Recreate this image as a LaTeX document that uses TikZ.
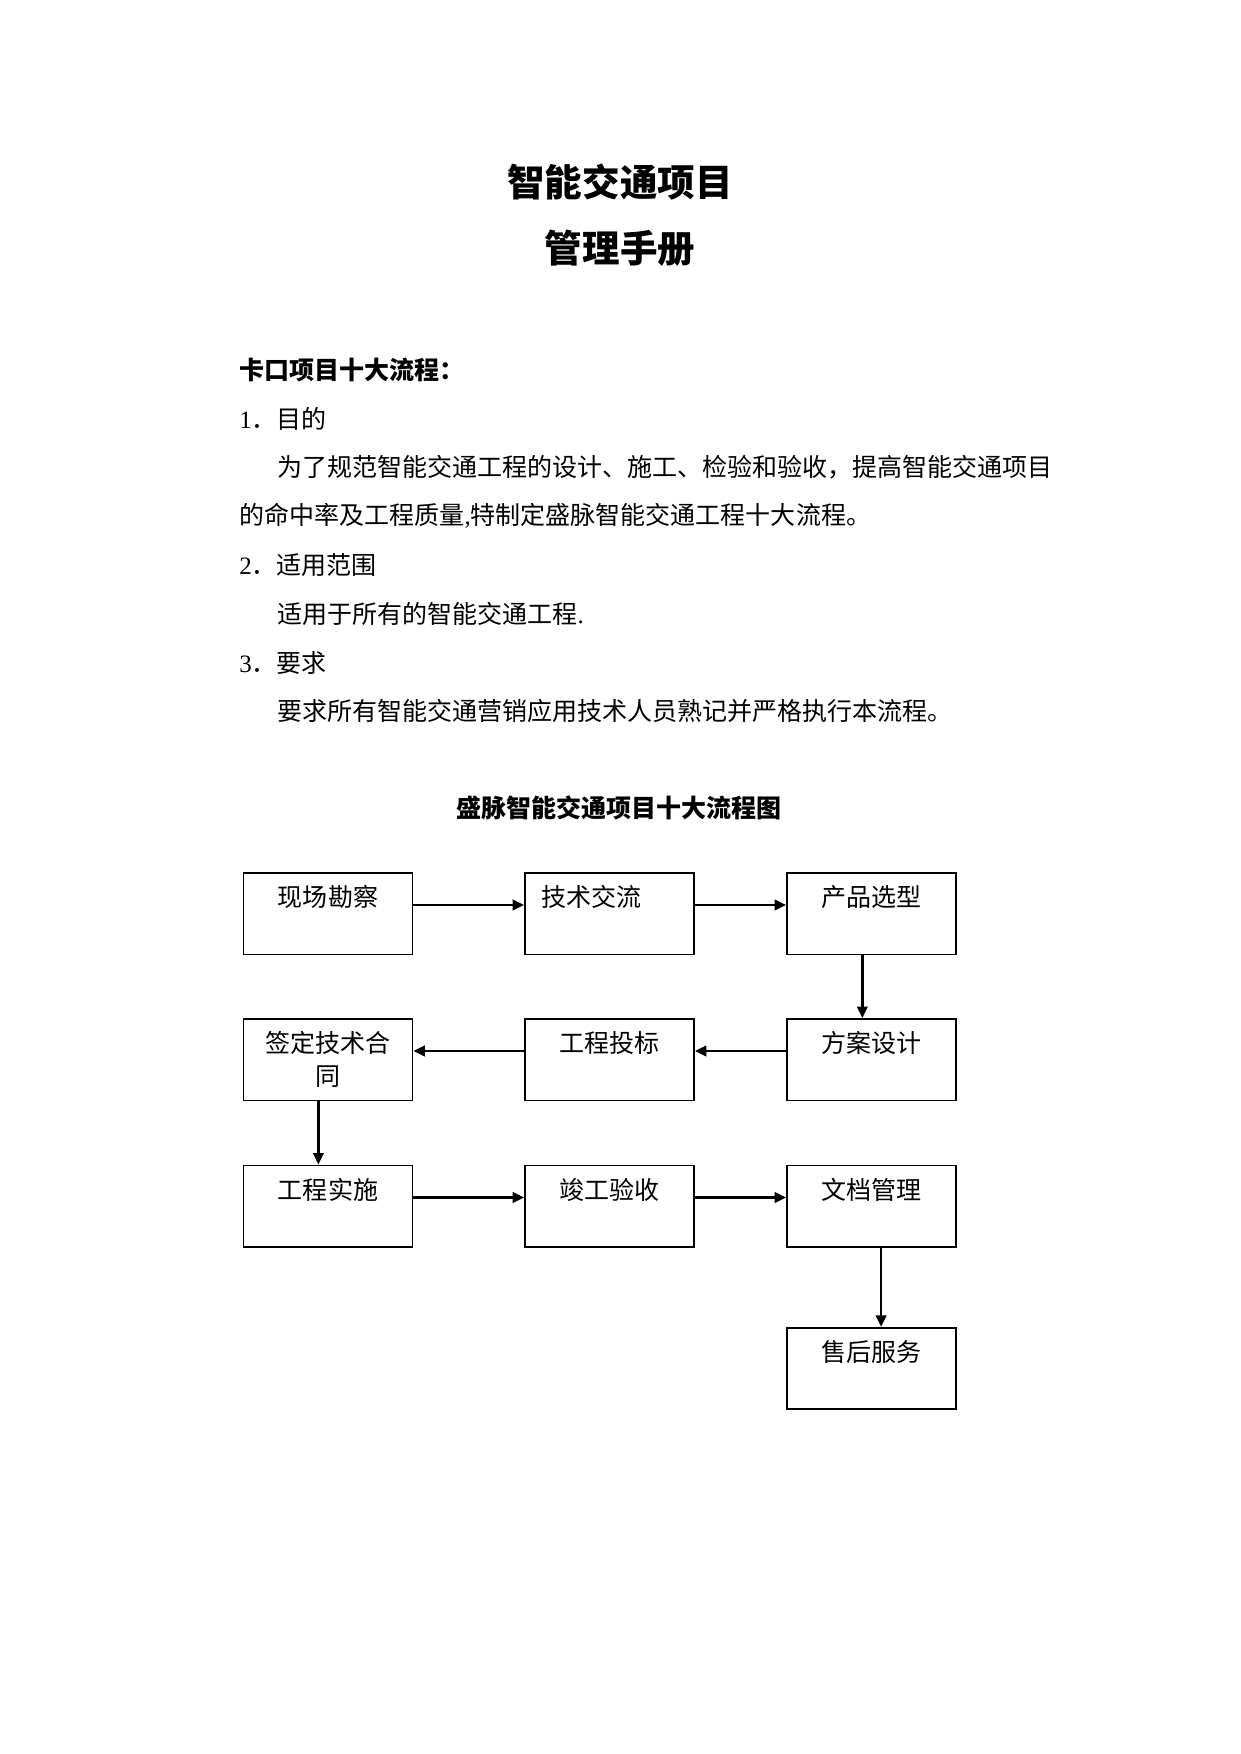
\documentclass[tikz,border=0pt]{standalone}
\usepackage{fontspec}
\setmainfont{Liberation Serif}
\newfontfamily\cjk{Noto Sans CJK SC}
\newfontfamily\latnfont{Liberation Serif}
\newcommand\latn[1]{{\latnfont #1}}
\usetikzlibrary{arrows.meta}
\begin{document}
\begin{tikzpicture}[x=0.4797pt,y=-0.4797pt,
  every node/.style={inner sep=0pt},
  txt/.style={anchor=west, font=\cjk\fontsize{12}{14}\selectfont},
  btxt/.style={anchor=west, font=\cjk\bfseries\fontsize{12}{14}\selectfont},
  ttl/.style={font=\cjk\bfseries\fontsize{18}{20}\selectfont},
  dtitle/.style={font=\cjk\bfseries\fontsize{12}{14}\selectfont},
  box/.style={draw, line width=0.9pt, minimum width=81.07pt, minimum height=39.1pt,
    text width=66pt, align=center, text height=16.1pt, text depth=23pt,
    font=\cjk\fontsize{12}{15.8}\selectfont},
  arr/.style={line width=1.2pt, -{Triangle[length=5.5pt,width=5pt]}}]
\useasboundingbox (0,0) rectangle (1241,1754);

% titles
\node[ttl] (t1) at (620,182) {智能交通项目};
\node[ttl] (t2) at (620,248) {管理手册};

% body text
\node[btxt] (h0) at (239,370) {卡口项目十大流程：};
\node[txt] (h1) at (239,419) {\latn{1}．目的};
\node[txt] (p1) at (277,467) {为了规范智能交通工程的设计、施工、检验和验收，提高智能交通项目};
\node[txt] (p2) at (239,516) {的命中率及工程质量\latn{,}特制定盛脉智能交通工程十大流程。};
\node[txt] (h2) at (239,565) {\latn{2}．适用范围};
\node[txt] (p3) at (277,614) {适用于所有的智能交通工程\latn{.}};
\node[txt] (h3) at (239,663) {\latn{3}．要求};
\node[txt] (p4) at (277,711) {要求所有智能交通营销应用技术人员熟记并严格执行本流程。};

% diagram title
\node[dtitle] (dt) at (619,808) {盛脉智能交通项目十大流程图};

% boxes
\node[box] (b1) at (328,913.75) {现场勘察};
\node[box] (b2) at (609.5,913.75) {\hbox{技术交流\kern17.3pt}};
\node[box] (b3) at (871.5,913.75) {产品选型};
\node[box] (b4) at (871.5,1059.75) {方案设计};
\node[box] (b5) at (609.5,1059.75) {工程投标};
\node[box] (b6) at (328,1059.75) {签定技术合\\同};
\node[box] (b7) at (328,1206.25) {工程实施};
\node[box] (b8) at (609.5,1206.25) {竣工验收};
\node[box] (b9) at (871.5,1206.25) {文档管理};
\node[box] (b10) at (871.5,1368.5) {售后服务};

% connectors
\draw[arr] ([yshift=-15.8pt]b1.north east) -- ([yshift=-15.8pt]b2.north west);
\draw[arr] ([yshift=-15.8pt]b2.north east) -- ([yshift=-15.8pt]b3.north west);
\draw[arr] ([xshift=-4.4pt]b3.south) -- ([xshift=-4.4pt]b4.north);
\draw[arr] ([yshift=-15.8pt]b4.north west) -- ([yshift=-15.8pt]b5.north east);
\draw[arr] ([yshift=-15.8pt]b5.north west) -- ([yshift=-15.8pt]b6.north east);
\draw[arr] ([xshift=-4.6pt]b6.south) -- ([xshift=-4.6pt]b7.north);
\draw[arr] ([yshift=-15.8pt]b7.north east) -- ([yshift=-15.8pt]b8.north west);
\draw[arr] ([yshift=-15.8pt]b8.north east) -- ([yshift=-15.8pt]b9.north west);
\draw[arr] ([xshift=4.6pt]b9.south) -- ([xshift=4.6pt]b10.north);
\end{tikzpicture}
\end{document}
